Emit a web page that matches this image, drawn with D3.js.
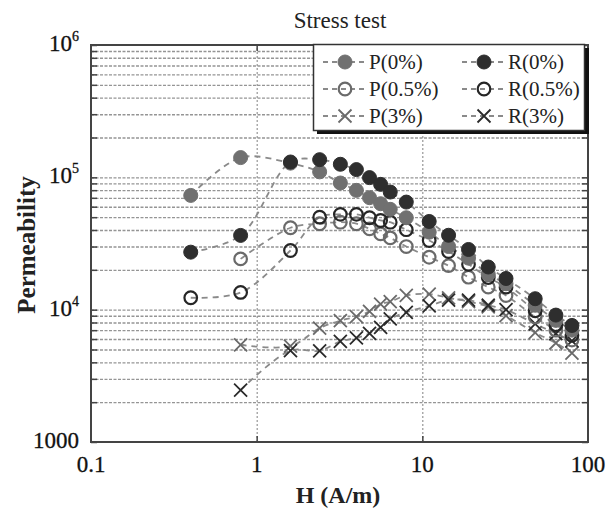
<!DOCTYPE html>
<html>
<head>
<meta charset="utf-8">
<script src="https://cdn.jsdelivr.net/npm/d3@7"></script>
<style>
  html, body { margin: 0; padding: 0; background: #fff; }
  svg { display: block; }
</style>
</head>
<body>
<svg id="chart" width="609" height="509"></svg>
<script>
// ---- data ----
const hValues = [0.4, 0.8, 1.6, 2.4, 3.2, 4, 4.8, 5.6, 6.4, 8, 11, 14.4, 19, 25, 32, 48, 64, 80];
const P0  = [73000, 141000, 128000, 110000, 90600, 79700, 70200, 63200, 57300, 49500, 38500, 30000, 24500, 18500, 15700, 10800, 8300, 7000];
const R0  = [27200, 36400, 130600, 136000, 125500, 114400, 99500, 88500, 77400, 65000, 46400, 36500, 28500, 21000, 17200, 12100, 9100, 7600];
const P05 = [null, 24200, 41600, 44600, 45800, 44600, 40800, 37400, 34900, 30000, 24900, 21500, 17600, 14800, 12800, 8800, 7000, 5900];
const R05 = [12300, 13500, 28000, 50000, 52500, 52500, 49500, 47200, 45800, 40200, 33300, 27500, 22000, 17500, 14800, 9800, 7700, 6400];
const P3  = [null, 5430, 5300, 7260, 8260, 8860, 9710, 11000, 11500, 12800, 13100, 12300, 11500, 10500, 9000, 6700, 5600, 4700];
const R3  = [null, 2470, 4900, 4890, 5760, 6120, 6610, 7350, 8510, 9550, 10700, 11800, 11800, 10800, 10000, 7800, 6600, 5800];
const seriesNames = ["P(0%)", "R(0%)", "P(0.5%)", "R(0.5%)", "P(3%)", "R(3%)"];
const xTickLabels = ["0.1", "1", "10", "100"];
const yMajorTicks = [1000, 10000, 100000, 1000000];
const titleText = "Stress test";
const xLabelText = "H (A/m)";
const yLabelText = "Permeability";

// ---- styles ----
const styles = {
  "P(0%)":   {type: "fill",  color: "#707070"},
  "R(0%)":   {type: "fill",  color: "#2e2e2e"},
  "P(0.5%)": {type: "open",  color: "#6a6a6a"},
  "R(0.5%)": {type: "open",  color: "#262626"},
  "P(3%)":   {type: "cross", color: "#6a6a6a"},
  "R(3%)":   {type: "cross", color: "#2a2a2a"}
};
const seriesValues = {"P(0%)": P0, "R(0%)": R0, "P(0.5%)": P05, "R(0.5%)": R05, "P(3%)": P3, "R(3%)": R3};

const L = 91, R = 588, T = 45, B = 442;
const svg = d3.select("#chart");
const x = d3.scaleLog().domain([0.1, 100]).range([L, R]);
const y = d3.scaleLog().domain([1000, 1e6]).range([B, T]);

const serif = "'Liberation Serif', 'Times New Roman', serif";

// all y ticks
const yAll = [];
[1000, 10000, 100000].forEach(d => { for (let k = 1; k < 10; k++) yAll.push(d * k); });
yAll.push(1e6);

// horizontal grid
svg.append("g").attr("transform", `translate(${L},0)`)
  .call(d3.axisLeft(y).tickValues(yAll.filter(v => v > 1000 && v < 1e6)).tickSize(-(R - L)).tickFormat(""))
  .call(g => g.select(".domain").remove())
  .call(g => g.selectAll("line").attr("stroke", "#959595").attr("stroke-width", 1.4).attr("stroke-dasharray", "3,1.5"));

// vertical grid at 1 and 10
svg.append("g").attr("transform", `translate(0,${B})`)
  .call(d3.axisBottom(x).tickValues([1, 10]).tickSize(-(B - T)).tickFormat(""))
  .call(g => g.select(".domain").remove())
  .call(g => g.selectAll("line").attr("stroke", "#808080").attr("stroke-width", 1).attr("stroke-dasharray", "2,2"));

// inward ticks
svg.append("g").attr("transform", `translate(${L},0)`)
  .call(d3.axisLeft(y).tickValues(yAll).tickSize(-6).tickFormat(""))
  .call(g => g.select(".domain").remove())
  .call(g => g.selectAll("line").attr("stroke", "#444").attr("stroke-width", 1.5));
svg.append("g").attr("transform", `translate(${R},0)`)
  .call(d3.axisRight(y).tickValues(yAll).tickSize(-6).tickFormat(""))
  .call(g => g.select(".domain").remove())
  .call(g => g.selectAll("line").attr("stroke", "#444").attr("stroke-width", 1.5));
svg.append("g").attr("transform", `translate(0,${B})`)
  .call(d3.axisBottom(x).tickValues([1, 10]).tickSize(-6).tickFormat(""))
  .call(g => g.select(".domain").remove())
  .call(g => g.selectAll("line").attr("stroke", "#444").attr("stroke-width", 1.5));
svg.append("g").attr("transform", `translate(0,${T})`)
  .call(d3.axisTop(x).tickValues([1, 10]).tickSize(-6).tickFormat(""))
  .call(g => g.select(".domain").remove())
  .call(g => g.selectAll("line").attr("stroke", "#444").attr("stroke-width", 1.5));

// frame
svg.append("rect").attr("x", L).attr("y", T).attr("width", R - L).attr("height", B - T)
  .attr("fill", "none").attr("stroke", "#444").attr("stroke-width", 2);

// x tick labels
svg.append("g").selectAll("text").data([0.1, 1, 10, 100]).join("text")
  .attr("x", d => x(d)).attr("y", B + 30)
  .attr("text-anchor", "middle").attr("font-family", serif).attr("font-size", 23).attr("fill", "#111")
  .attr("stroke", "#111").attr("stroke-width", 0.3)
  .text((d, i) => xTickLabels[i]);

// y tick labels
const yl = svg.append("g").selectAll("text").data(yMajorTicks).join("text")
  .attr("x", 79).attr("y", d => y(d) + 6)
  .attr("text-anchor", "end").attr("font-family", serif).attr("font-size", 23).attr("fill", "#111")
  .attr("stroke", "#111").attr("stroke-width", 0.3);
yl.each(function(d) {
  const t = d3.select(this);
  const e = Math.round(Math.log10(d));
  if (e === 3) { t.text("1000"); }
  else {
    t.append("tspan").text("10");
    t.append("tspan").attr("font-size", 14).attr("dy", -10).text(e);
  }
});

// title and axis labels
svg.append("text").attr("x", 340).attr("y", 28).attr("text-anchor", "middle")
  .attr("font-family", serif).attr("font-size", 23).attr("fill", "#222").text(titleText);
svg.append("text").attr("x", 338).attr("y", 503).attr("text-anchor", "middle")
  .attr("font-family", serif).attr("font-size", 24).attr("font-weight", "bold").attr("fill", "#222").text(xLabelText);
svg.append("text").attr("transform", "translate(35,245) rotate(-90)").attr("text-anchor", "middle")
  .attr("font-family", serif).attr("font-size", 25).attr("font-weight", "bold").attr("fill", "#222").text(yLabelText);

// lines
const line = d3.line()
  .defined(d => d[1] != null)
  .x(d => x(d[0])).y(d => y(d[1]))
  .curve(d3.curveCatmullRom.alpha(0.5));

const plot = svg.append("g");
const order = ["P(3%)", "R(3%)", "P(0.5%)", "R(0.5%)", "P(0%)", "R(0%)"];
order.forEach(name => {
  const pts = hValues.map((h, i) => [h, seriesValues[name][i]]).filter(d => d[1] != null);
  plot.append("path").datum(pts).attr("d", line)
    .attr("fill", "none").attr("stroke", "#8a8a8a").attr("stroke-width", 1.8).attr("stroke-dasharray", "6,5");
});

function drawMarker(g, type, color, cx, cy) {
  if (type === "fill") {
    g.append("circle").attr("cx", cx).attr("cy", cy).attr("r", 7)
      .attr("fill", color).attr("stroke", color).attr("stroke-width", 1);
  } else if (type === "open") {
    g.append("circle").attr("cx", cx).attr("cy", cy).attr("r", 6.3)
      .attr("fill", "none").attr("stroke", color).attr("stroke-width", 2.2);
  } else {
    const s = 6.5;
    g.append("path").attr("d", `M${cx - s},${cy - s}L${cx + s},${cy + s}M${cx - s},${cy + s}L${cx + s},${cy - s}`)
      .attr("stroke", color).attr("stroke-width", 1.8).attr("fill", "none");
  }
}

order.forEach(name => {
  const st = styles[name];
  const g = plot.append("g");
  hValues.forEach((h, i) => {
    const v = seriesValues[name][i];
    if (v != null) drawMarker(g, st.type, st.color, x(h), y(v));
  });
});

// legend
const lg = svg.append("g");
lg.append("rect").attr("x", 317).attr("y", 48).attr("width", 272).attr("height", 86).attr("fill", "#111");
lg.append("rect").attr("x", 313.5).attr("y", 44.5).attr("width", 271).attr("height", 86)
  .attr("fill", "#fff").attr("stroke", "#333").attr("stroke-width", 1.5);
const rowsY = [62, 89, 116];
const colX = [323, 462];
seriesNames.forEach((name, i) => {
  const col = i % 2, row = Math.floor(i / 2);
  const x0 = colX[col], yy = rowsY[row];
  lg.append("line").attr("x1", x0).attr("x2", x0 + 43).attr("y1", yy).attr("y2", yy)
    .attr("stroke", "#8a8a8a").attr("stroke-width", 1.8).attr("stroke-dasharray", "5,4");
  drawMarker(lg, styles[name].type, styles[name].color, x0 + 22, yy);
  lg.append("text").attr("x", x0 + 46).attr("y", yy + 7)
    .attr("font-family", serif).attr("font-size", 21).attr("fill", "#222").text(name);
});
</script>
</body>
</html>
